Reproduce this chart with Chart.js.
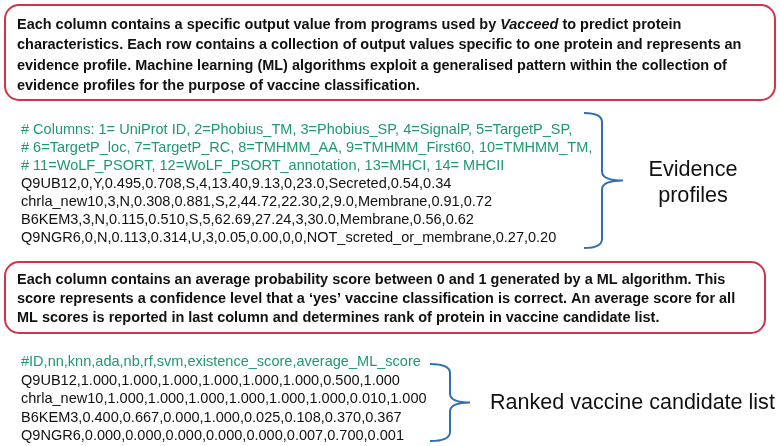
<!DOCTYPE html>
<html>
<head>
<meta charset="utf-8">
<script src="https://cdn.jsdelivr.net/npm/chart.js@4.4.1/dist/chart.umd.min.js"></script>
<style>
  html, body { margin: 0; padding: 0; background: #ffffff; }
  #figure { display: block; }
</style>
</head>
<body>
<canvas id="figure" width="780" height="446"></canvas>
<script>
// text content of the figure
const introLines = [
  ['Each column contains a specific output value from programs used by ', '*Vacceed', ' to predict protein'],
  ['characteristics. Each row contains a collection of output values specific to one protein and represents an'],
  ['evidence profile. Machine learning (ML) algorithms exploit a generalised pattern within the collection of'],
  ['evidence profiles for the purpose of vaccine classification.'],
];
const profileHeader = [
  '# Columns: 1= UniProt ID, 2=Phobius_TM, 3=Phobius_SP, 4=SignalP, 5=TargetP_SP,',
  '# 6=TargetP_loc, 7=TargetP_RC, 8=TMHMM_AA, 9=TMHMM_First60, 10=TMHMM_TM,',
  '# 11=WoLF_PSORT, 12=WoLF_PSORT_annotation, 13=MHCI, 14= MHCII',
];
const profileRows = [
  'Q9UB12,0,Y,0.495,0.708,S,4,13.40,9.13,0,23.0,Secreted,0.54,0.34',
  'chrla_new10,3,N,0.308,0.881,S,2,44.72,22.30,2,9.0,Membrane,0.91,0.72',
  'B6KEM3,3,N,0.115,0.510,S,5,62.69,27.24,3,30.0,Membrane,0.56,0.62',
  'Q9NGR6,0,N,0.113,0.314,U,3,0.05,0.00,0,0,NOT_screted_or_membrane,0.27,0.20',
];
const scoreLines = [
  ['Each column contains an average probability score between 0 and 1 generated by a ML algorithm. This'],
  ['score represents a confidence level that a \u2018yes\u2019 vaccine classification is correct. An average score for all'],
  ['ML scores is reported in last column and determines rank of protein in vaccine candidate list.'],
];
const rankedHeader = ['#ID,nn,knn,ada,nb,rf,svm,existence_score,average_ML_score'];
const rankedRows = [
  'Q9UB12,1.000,1.000,1.000,1.000,1.000,1.000,0.500,1.000',
  'chrla_new10,1.000,1.000,1.000,1.000,1.000,1.000,0.010,1.000',
  'B6KEM3,0.400,0.667,0.000,1.000,0.025,0.108,0.370,0.367',
  'Q9NGR6,0.000,0.000,0.000,0.000,0.000,0.007,0.700,0.001',
];
const profileLabel = ['Evidence', 'profiles'];
const rankedLabel = ['Ranked vaccine candidate list'];

const FONT = "'Liberation Sans', Arial, Helvetica, sans-serif";
const RED = '#cf3448';
const GREEN = '#1d9a6c';
const BLUE = '#2f6fb3';

function roundBox(ctx, x, y, w, h, r) {
  ctx.beginPath();
  ctx.moveTo(x + r, y);
  ctx.arcTo(x + w, y, x + w, y + h, r);
  ctx.arcTo(x + w, y + h, x, y + h, r);
  ctx.arcTo(x, y + h, x, y, r);
  ctx.arcTo(x, y, x + w, y, r);
  ctx.closePath();
  ctx.strokeStyle = RED;
  ctx.lineWidth = 2;
  ctx.stroke();
}

function brace(ctx, x0, xv, tip, top, bottom) {
  const mid = (top + bottom) / 2;
  const r = 9;
  ctx.beginPath();
  ctx.moveTo(x0, top);
  ctx.quadraticCurveTo(xv, top, xv, top + r);
  ctx.lineTo(xv, mid - r);
  ctx.quadraticCurveTo(xv, mid, tip, mid);
  ctx.quadraticCurveTo(xv, mid, xv, mid + r);
  ctx.lineTo(xv, bottom - r);
  ctx.quadraticCurveTo(xv, bottom, x0, bottom);
  ctx.strokeStyle = BLUE;
  ctx.lineWidth = 2;
  ctx.stroke();
}

// pick a font size so the widest line spans the given width
function fitSize(ctx, lines, style, target, base) {
  let widest = 0;
  ctx.font = style + ' ' + base + 'px ' + FONT;
  lines.forEach(l => { widest = Math.max(widest, ctx.measureText(l).width); });
  return base * target / widest;
}

function drawRich(ctx, parts, x, y, weight, size) {
  let cx = x;
  parts.forEach(p => {
    const italic = p.startsWith('*');
    const txt = italic ? p.slice(1) : p;
    ctx.font = (italic ? 'italic ' : '') + weight + ' ' + size + 'px ' + FONT;
    ctx.fillText(txt, cx, y);
    cx += ctx.measureText(txt).width;
  });
}

const figurePlugin = {
  id: 'figure',
  afterDraw(chart) {
    const ctx = chart.ctx;
    const sx = v => chart.scales.x.getPixelForValue(v);
    const sy = v => chart.scales.y.getPixelForValue(v);
    ctx.save();
    ctx.textBaseline = 'middle';
    ctx.textAlign = 'left';

    // top explanation box
    roundBox(ctx, sx(5), sy(5), sx(775) - sx(5), sy(100) - sy(5), 14);
    const boldSize = fitSize(ctx, [introLines[1][0]], 'bold', 725, 15);
    ctx.fillStyle = '#111';
    introLines.forEach((l, i) => drawRich(ctx, l, sx(17), sy(25 + i * 20.3), 'bold', boldSize));

    // evidence profiles
    const monoSize = fitSize(ctx, [profileHeader[0]], 'normal', 552, 15);
    ctx.font = monoSize + 'px ' + FONT;
    ctx.fillStyle = GREEN;
    profileHeader.forEach((l, i) => ctx.fillText(l, sx(21), sy(130 + i * 18)));
    ctx.fillStyle = '#111';
    profileRows.forEach((l, i) => ctx.fillText(l, sx(21), sy(130 + (i + 3) * 18)));
    brace(ctx, sx(584), sx(602), sx(623), sy(113), sy(248));
    const lblSize = fitSize(ctx, [profileLabel[0]], 'normal', 89, 26);
    ctx.font = lblSize + 'px ' + FONT;
    ctx.textAlign = 'center';
    ctx.fillText(profileLabel[0], sx(693), sy(170));
    ctx.fillText(profileLabel[1], sx(693), sy(196));
    ctx.textAlign = 'left';

    // second explanation box
    roundBox(ctx, sx(5), sy(262), sx(765) - sx(5), sy(333) - sy(262), 14);
    scoreLines.forEach((l, i) => drawRich(ctx, l, sx(17), sy(280 + i * 19), 'bold', boldSize));

    // ranked list
    ctx.font = monoSize + 'px ' + FONT;
    ctx.fillStyle = GREEN;
    ctx.fillText(rankedHeader[0], sx(21), sy(362));
    ctx.fillStyle = '#111';
    rankedRows.forEach((l, i) => ctx.fillText(l, sx(21), sy(362 + (i + 1) * 18.5)));
    brace(ctx, sx(430), sx(450), sx(470), sy(364), sy(441));
    const rankSize = fitSize(ctx, rankedLabel, 'normal', 285, 26);
    ctx.font = rankSize + 'px ' + FONT;
    ctx.fillText(rankedLabel[0], sx(490), sy(403));
    ctx.restore();
  }
};

new Chart(document.getElementById('figure'), {
  type: 'scatter',
  data: { datasets: [] },
  options: {
    responsive: false,
    animation: false,
    devicePixelRatio: 1,
    layout: { padding: 0 },
    scales: {
      x: { display: false, min: 0, max: 780 },
      y: { display: false, min: 0, max: 446, reverse: true },
    },
    plugins: {
      legend: { display: false },
      tooltip: { enabled: false },
    },
  },
  plugins: [figurePlugin],
});
</script>
</body>
</html>
